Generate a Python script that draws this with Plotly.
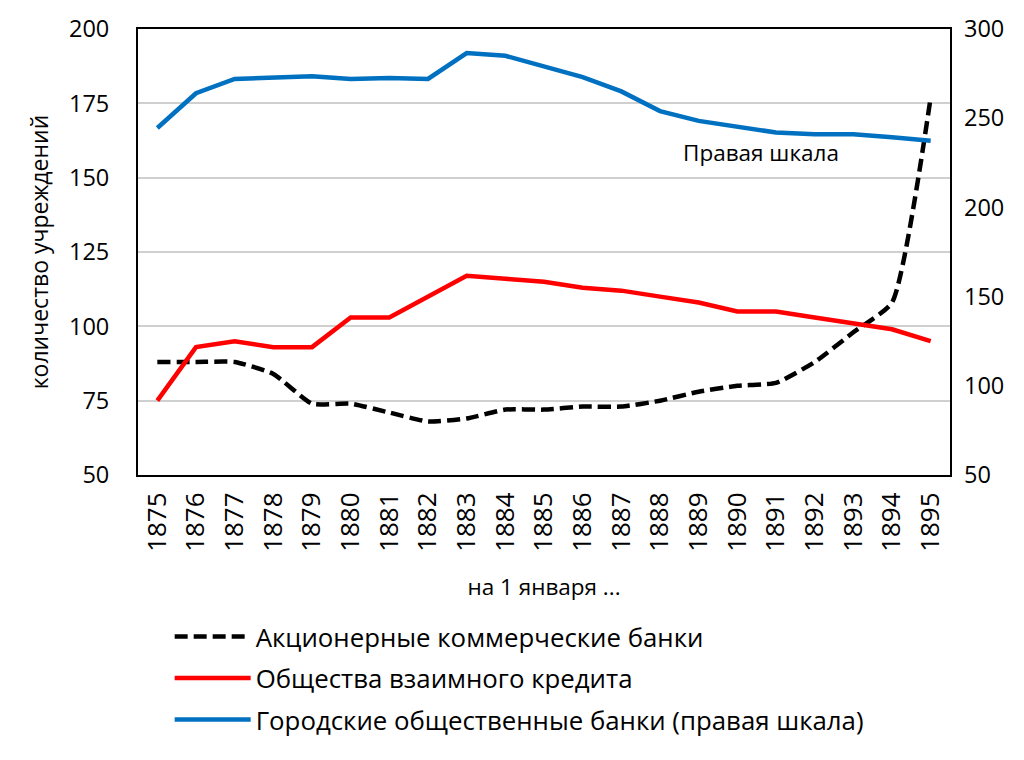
import plotly.graph_objects as go

years = [str(y) for y in range(1875, 1896)]
joint_stock = [88, 88, 88, 84, 74, 74, 71, 68, 69, 72, 72, 73, 73, 75, 78, 80, 81, 88, 98, 108, 177]
mutual_credit = [75, 93, 95, 93, 93, 103, 103, 110, 117, 116, 115, 113, 112, 110, 108, 105, 105, 103, 101, 99, 95]
city_banks = [244.5, 264, 272, 272.5, 273.5, 272, 272.5, 272, 286.5, 285, 279, 273, 265, 254, 248.5, 245, 242, 241, 241, 239.3, 237.4]

names = ["Акционерные коммерческие банки", "Общества взаимного кредита",
         "Городские общественные банки (правая шкала)"]

FONT = "Open Sans"

fig = go.Figure()
fig.add_trace(go.Scatter(x=years, y=joint_stock, name=names[0], mode="lines", legendgroup="a",
                         line=dict(color="black", width=4.5, dash="13px,6px", shape="spline", smoothing=0.5)))
fig.add_trace(go.Scatter(x=years, y=mutual_credit, name=names[1], mode="lines", legendgroup="b",
                         line=dict(color="#ff0000", width=4.5)))
fig.add_trace(go.Scatter(x=years, y=city_banks, name=names[2], mode="lines", yaxis="y2", legendgroup="c",
                         line=dict(color="#0070c0", width=4.5)))

fig.add_annotation(text="Правая шкала", xref="paper", yref="y2", x=0.767, y=230.5,
                   xanchor="center", yanchor="middle",
                   showarrow=False, font=dict(size=22.5, color="black", family=FONT))

fig.update_layout(
    width=1024, height=760,
    margin=dict(l=130, r=82, t=21, b=293),
    paper_bgcolor="white", plot_bgcolor="white",
    font=dict(family=FONT, color="black", size=20),
    showlegend=True,
    legend=dict(x=0.039, y=-0.31, xanchor="left", yanchor="top", orientation="v",
                font=dict(size=25.8, family=FONT), itemwidth=76, tracegroupgap=5,
                bgcolor="rgba(0,0,0,0)"),
    xaxis=dict(type="category", range=[-0.5, 20.5], tickangle=-90, showgrid=False,
               showline=True, mirror=True, linecolor="black", linewidth=2,
               ticks="", tickfont=dict(size=26), automargin=False, ticklabelstandoff=5,
               title=dict(text="на 1 января ...", font=dict(size=22.5), standoff=28)),
    yaxis=dict(range=[50, 200], tickvals=[50, 75, 100, 125, 150, 175, 200],
               showgrid=True, gridcolor="#d0d0d0", gridwidth=2, zeroline=False,
               showline=True, mirror=True, linecolor="black", linewidth=2,
               ticks="", ticklabelstandoff=22, tickfont=dict(size=23.5), automargin=False,
               title=dict(text="количество учреждений", font=dict(size=23), standoff=14)),
    yaxis2=dict(range=[50, 300], tickvals=[50, 100, 150, 200, 250, 300], overlaying="y",
                side="right", showgrid=False, zeroline=False, ticks="", automargin=False,
                ticklabelstandoff=13, tickfont=dict(size=23.5)),
)

fig.write_html("out.html")
